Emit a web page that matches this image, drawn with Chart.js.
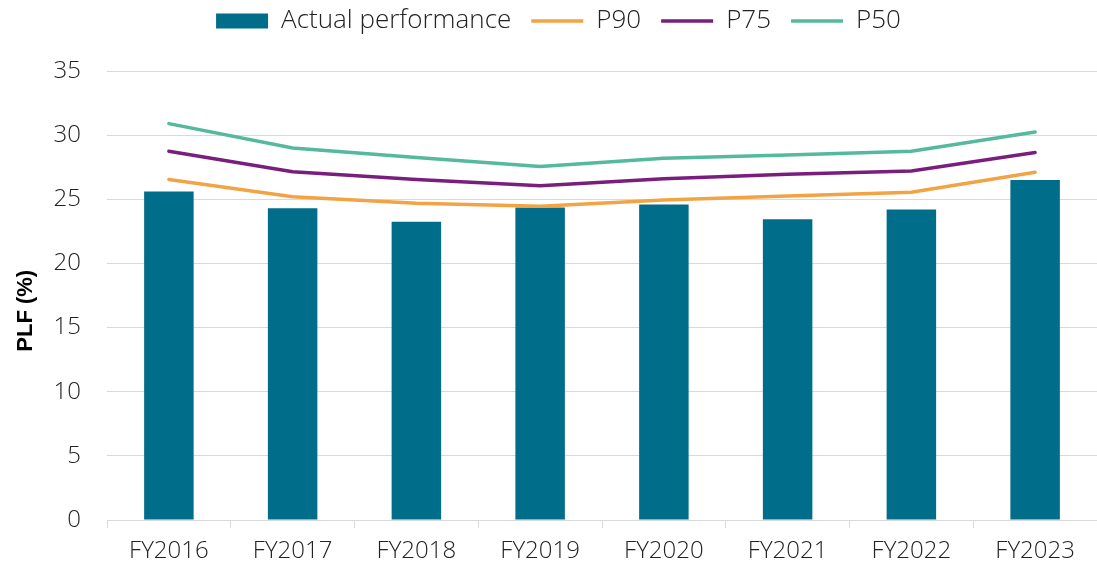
<!DOCTYPE html>
<html>
<head>
<meta charset="utf-8">
<script src="https://cdn.jsdelivr.net/npm/chart.js@4"></script>
<style>
  html, body { margin: 0; padding: 0; background: #ffffff; }
  #wrap { width: 1097px; height: 567px; position: relative; }
</style>
</head>
<body>
<div id="wrap"><canvas id="c"></canvas></div>
<script>
const categories = ['FY2016', 'FY2017', 'FY2018', 'FY2019', 'FY2020', 'FY2021', 'FY2022', 'FY2023'];
const actualPerformance = [25.6, 24.3, 23.25, 24.35, 24.6, 23.45, 24.2, 26.5];
const p90 = [26.55, 25.2, 24.7, 24.45, 24.95, 25.25, 25.55, 27.1];
const p75 = [28.75, 27.15, 26.55, 26.05, 26.6, 26.95, 27.2, 28.65];
const p50 = [30.9, 29.0, 28.25, 27.55, 28.2, 28.45, 28.75, 30.25];
const yTicks = [0, 5, 10, 15, 20, 25, 30, 35];

const FONT = "'Open Sans', 'DejaVu Sans', sans-serif";
const TEXT = '#222222';

const legendHeight = {
  id: 'legendHeight',
  beforeInit(chart) {
    const origFit = chart.legend.fit;
    chart.legend.fit = function () {
      origFit.bind(chart.legend)();
      this.height = 83;
    };
  },
  afterLayout(chart) {
    chart.legend.left += 10;
    chart.legend.right += 10;
  }
};

new Chart(document.getElementById('c'), {
  data: {
    labels: categories,
    datasets: [
      {
        type: 'bar',
        label: 'Actual performance',
        data: actualPerformance,
        backgroundColor: '#006e8a',
        borderWidth: 0,
        barPercentage: 0.4,
        categoryPercentage: 1.0,
        pointStyle: 'rect',
        order: 2
      },
      {
        type: 'line',
        label: 'P90',
        data: p90,
        borderColor: '#f2a445',
        backgroundColor: '#f2a445',
        borderWidth: 3.5,
        pointRadius: 0,
        tension: 0,
        borderCapStyle: 'round',
        pointStyle: 'line',
        order: 1
      },
      {
        type: 'line',
        label: 'P75',
        data: p75,
        borderColor: '#7a1e7e',
        backgroundColor: '#7a1e7e',
        borderWidth: 3.5,
        pointRadius: 0,
        tension: 0,
        borderCapStyle: 'round',
        pointStyle: 'line',
        order: 1
      },
      {
        type: 'line',
        label: 'P50',
        data: p50,
        borderColor: '#54b99d',
        backgroundColor: '#54b99d',
        borderWidth: 3.5,
        pointRadius: 0,
        tension: 0,
        borderCapStyle: 'round',
        pointStyle: 'line',
        order: 1
      }
    ]
  },
  options: {
    responsive: true,
    maintainAspectRatio: false,
    animation: false,
    layout: { padding: { top: -12, left: 0, right: 0, bottom: 0 } },
    plugins: {
      tooltip: { enabled: false },
      legend: {
        position: 'top',
        labels: {
          usePointStyle: true,
          pointStyleWidth: 52,
          boxHeight: 15,
          padding: 20,
          color: TEXT,
          font: { family: FONT, size: 26, weight: 300 },
          sort: (a, b) => a.datasetIndex - b.datasetIndex
        }
      }
    },
    scales: {
      x: {
        offset: true,
        grid: {
          display: true,
          drawOnChartArea: false,
          drawTicks: true,
          tickLength: 8,
          offset: true,
          color: '#d9d9d9'
        },
        border: { display: true, color: '#d9d9d9', width: 1 },
        ticks: {
          color: TEXT,
          font: { family: FONT, size: 24, weight: 300 },
          padding: 9,
          maxRotation: 0,
          autoSkip: false
        },
        afterFit(scale) { scale.height = 47; }
      },
      y: {
        min: 0,
        max: 35,
        afterBuildTicks(scale) { scale.ticks = yTicks.map(v => ({ value: v })); },
        grid: {
          color: '#d9d9d9',
          drawTicks: false,
          lineWidth: 1
        },
        border: { display: false },
        ticks: {
          color: TEXT,
          font: { family: FONT, size: 24, weight: 300 },
          padding: 26
        },
        title: {
          display: true,
          text: 'PLF (%)     ',
          color: '#000000',
          font: { family: "'Liberation Sans', Arial, sans-serif", size: 22, weight: 'bold' },
          padding: { top: 13, bottom: 0 }
        },
        afterFit(scale) { scale.width = 107; }
      }
    }
  },
  plugins: [legendHeight]
});
</script>
</body>
</html>
